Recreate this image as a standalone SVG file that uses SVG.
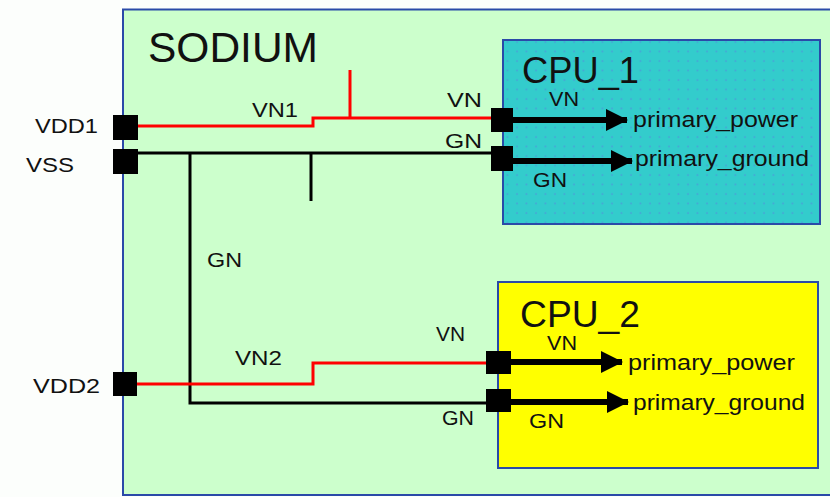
<svg xmlns="http://www.w3.org/2000/svg" width="830" height="497" viewBox="0 0 830 497">
  <style>
    text { font-family: "Liberation Sans", Arial, sans-serif; fill: #111; }
    .lbl { font-size: 20.5px; }
    .pin { font-size: 22px; }
    .title { font-size: 37px; }
    .red { stroke: #ff0000; stroke-width: 3; fill: none; }
    .blk { stroke: #000; stroke-width: 3; fill: none; }
    .arw { stroke: #000; stroke-width: 6; fill: none; marker-end: url(#arr); }
    .port { fill: #000; }
    .box { stroke: #2a4aa8; stroke-width: 2; }
  </style>
  <defs>
    <marker id="arr" viewBox="0 0 22 22" markerWidth="22" markerHeight="22" refX="21" refY="11" markerUnits="userSpaceOnUse" orient="auto">
      <path d="M0 0 L22 11 L0 22 Z" fill="#000"/>
    </marker>
    <pattern id="dots" width="9.5" height="9.5" patternUnits="userSpaceOnUse">
      <rect width="9.5" height="9.5" fill="#33cccc"/>
      <circle cx="4" cy="4" r="0.9" fill="#4a9fd8"/>
    </pattern>
  </defs>
  <rect width="830" height="497" fill="#fcfefc"/>

  <g id="sodium">
    <rect class="box" x="123" y="9.5" width="720" height="485.5" fill="#ccffcc"/>
    <text x="148" y="62" style="font-size:43px" textLength="170" lengthAdjust="spacingAndGlyphs">SODIUM</text>
  </g>

  <g id="cpu1">
    <rect class="box" x="503" y="40" width="317" height="184" fill="url(#dots)"/>
    <text class="title" x="522" y="83" textLength="117" lengthAdjust="spacingAndGlyphs">CPU_1</text>
  </g>

  <g id="cpu2">
    <rect class="box" x="498" y="282" width="320" height="186" fill="#ffff00"/>
    <text class="title" x="520" y="327" textLength="120" lengthAdjust="spacingAndGlyphs">CPU_2</text>
  </g>

  <g id="connectors">
    <path class="red" d="M137 126 H313 V118 H491"/>
    <path class="red" d="M350 70 V118"/>
    <path class="blk" d="M137 153 H491"/>
    <path class="blk" d="M190 153 V403 H486"/>
    <path class="blk" d="M311 153 V201"/>
    <path class="red" d="M136 384 H313 V363 H486"/>
    <path class="arw" d="M513 120 H627"/>
    <path class="arw" d="M513 161 H632"/>
    <path class="arw" d="M511 362 H622"/>
    <path class="arw" d="M511 402 H628"/>
  </g>

  <g id="port_vdd1">
    <rect class="port" x="113" y="115" width="25" height="25"/>
    <text class="lbl" x="35" y="133" textLength="63" lengthAdjust="spacingAndGlyphs">VDD1</text>
  </g>
  <g id="port_vss">
    <rect class="port" x="113" y="149" width="25" height="25"/>
    <text class="lbl" x="26" y="172" textLength="48" lengthAdjust="spacingAndGlyphs">VSS</text>
  </g>
  <g id="port_vdd2">
    <rect class="port" x="113" y="372" width="24" height="24"/>
    <text class="lbl" x="33" y="393" textLength="67" lengthAdjust="spacingAndGlyphs">VDD2</text>
  </g>

  <g id="net_labels">
    <text class="lbl" x="252" y="117" textLength="46" lengthAdjust="spacingAndGlyphs">VN1</text>
    <text class="lbl" x="235" y="365" textLength="47" lengthAdjust="spacingAndGlyphs">VN2</text>
    <text class="lbl" x="207" y="267" textLength="35" lengthAdjust="spacingAndGlyphs">GN</text>
  </g>

  <g id="cpu1_ports">
    <rect class="port" x="491" y="108" width="22" height="24"/>
    <rect class="port" x="491" y="146" width="22" height="25"/>
    <text class="lbl" x="447" y="107" textLength="35" lengthAdjust="spacingAndGlyphs">VN</text>
    <text class="lbl" x="549" y="106" textLength="30" lengthAdjust="spacingAndGlyphs">VN</text>
    <text class="lbl" x="445" y="148" textLength="37" lengthAdjust="spacingAndGlyphs">GN</text>
    <text class="lbl" x="533" y="187" textLength="34" lengthAdjust="spacingAndGlyphs">GN</text>
    <text class="pin" x="633" y="127" textLength="165" lengthAdjust="spacingAndGlyphs">primary_power</text>
    <text class="pin" x="635" y="166" textLength="174" lengthAdjust="spacingAndGlyphs">primary_ground</text>
  </g>

  <g id="cpu2_ports">
    <rect class="port" x="486" y="351" width="25" height="23"/>
    <rect class="port" x="486" y="389" width="25" height="23"/>
    <text class="lbl" x="436" y="341" textLength="29" lengthAdjust="spacingAndGlyphs">VN</text>
    <text class="lbl" x="547" y="350" textLength="30" lengthAdjust="spacingAndGlyphs">VN</text>
    <text class="lbl" x="442" y="425" textLength="32" lengthAdjust="spacingAndGlyphs">GN</text>
    <text class="lbl" x="529" y="428" textLength="35" lengthAdjust="spacingAndGlyphs">GN</text>
    <text class="pin" x="628" y="370" textLength="167" lengthAdjust="spacingAndGlyphs">primary_power</text>
    <text class="pin" x="633" y="410" textLength="172" lengthAdjust="spacingAndGlyphs">primary_ground</text>
  </g>
</svg>
